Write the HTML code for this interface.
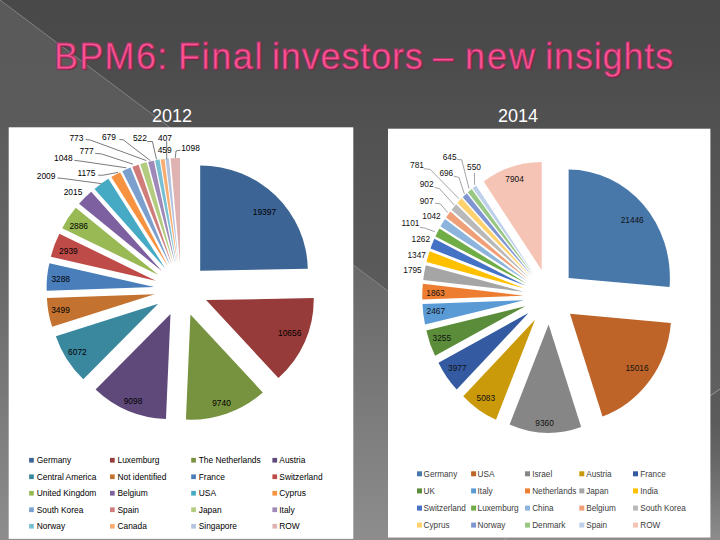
<!DOCTYPE html>
<html><head><meta charset="utf-8"><title>BPM6</title>
<style>
html,body{margin:0;padding:0;}
body{width:720px;height:540px;overflow:hidden;position:relative;background:#4f4f4f;font-family:"Liberation Sans",sans-serif;}
#bg{position:absolute;left:0;top:0;}
#title span{position:absolute;left:0;top:35.6px;font-size:36px;line-height:41px;color:#ff5292;white-space:nowrap;-webkit-text-stroke:0.9px #b0356a;text-shadow:1px 1px 1px #6a1c3e;}
.yr{position:absolute;top:105.5px;font-size:18px;line-height:20px;color:#fff;width:60px;text-align:center;}
</style></head><body>
<svg id="bg" width="720" height="540" viewBox="0 0 720 540">
<defs>
<linearGradient id="g1" x1="0" y1="0" x2="0" y2="1"><stop offset="0" stop-color="#494949"/><stop offset="0.08" stop-color="#4a4a4a"/><stop offset="0.25" stop-color="#525252"/><stop offset="0.5" stop-color="#5a5a5a"/><stop offset="0.72" stop-color="#5f5f5f"/><stop offset="1" stop-color="#8c8c8c"/></linearGradient>
<linearGradient id="g2" x1="0" y1="0" x2="0" y2="1"><stop offset="0" stop-color="#5a5a5a"/><stop offset="0.22" stop-color="#5b5b5b"/><stop offset="0.5" stop-color="#686868"/><stop offset="1" stop-color="#8d8d8d"/></linearGradient>
</defs>
<rect width="720" height="540" fill="url(#g1)"/>
<polygon points="0,0 720,540 0,540" fill="url(#g2)"/>
<line x1="0" y1="0" x2="720" y2="540" stroke="#8e8e8e" stroke-width="0.8"/>
<polygon points="720,389 504,540 720,540" fill="url(#g2)"/><line x1="720" y1="389" x2="504" y2="540" stroke="#a8a8a8" stroke-width="0.8"/>
<rect x="8.7" y="127.3" width="344.6" height="411.6" fill="#fff"/>
<rect x="388" y="128.7" width="322.4" height="408.8" fill="#fff"/>
<g transform="translate(181.2 289.6) scale(1.023 1)"><path d="M18.56 -18.92L18.56 -124.12A105.2 105.2 0 0 1 123.74 -20.91Z" fill="#3c6494"/><path d="M24.33 10.50L129.51 8.50A105.2 105.2 0 0 1 95.05 88.38Z" fill="#963b39"/><path d="M9.03 24.91L79.75 102.80A105.2 105.2 0 0 1 4.62 130.02Z" fill="#78933f"/><path d="M-10.46 24.35L-14.88 129.45A105.2 105.2 0 0 1 -83.68 99.88Z" fill="#5f497a"/><path d="M-22.48 14.03L-95.70 89.57A105.2 105.2 0 0 1 -122.50 46.65Z" fill="#3a889e"/><path d="M-26.09 4.62L-126.11 37.23A105.2 105.2 0 0 1 -131.23 8.33Z" fill="#c3722f"/><path d="M-26.38 -2.55L-131.51 1.16A105.2 105.2 0 0 1 -128.86 -26.30Z" fill="#4a7ebb"/><path d="M-24.94 -8.97L-127.42 -32.73A105.2 105.2 0 0 1 -119.06 -55.95Z" fill="#be4b48"/><path d="M-22.19 -14.49L-116.32 -61.46A105.2 105.2 0 0 1 -103.07 -81.76Z" fill="#98b954"/><path d="M-18.94 -18.53L-99.82 -85.80A105.2 105.2 0 0 1 -87.98 -97.91Z" fill="#7d60a0"/><path d="M-15.73 -21.33L-84.76 -100.71A105.2 105.2 0 0 1 -71.17 -110.73Z" fill="#46aac5"/><path d="M-12.89 -23.15L-68.33 -112.56A105.2 105.2 0 0 1 -59.69 -117.37Z" fill="#f79240"/><path d="M-10.78 -24.21L-57.59 -118.42A105.2 105.2 0 0 1 -49.53 -122.01Z" fill="#7ba0cd"/><path d="M-8.99 -24.93L-47.74 -122.73A105.2 105.2 0 0 1 -41.59 -124.95Z" fill="#d07c7a"/><path d="M-7.43 -25.44L-40.03 -125.46A105.2 105.2 0 0 1 -33.78 -127.28Z" fill="#b3cc80"/><path d="M-5.94 -25.83L-32.29 -127.67A105.2 105.2 0 0 1 -26.72 -128.95Z" fill="#9e89b9"/><path d="M-4.69 -26.08L-25.48 -129.21A105.2 105.2 0 0 1 -21.15 -129.99Z" fill="#77bfd3"/><path d="M-3.67 -26.25L-20.13 -130.15A105.2 105.2 0 0 1 -16.30 -130.68Z" fill="#f8ae73"/><path d="M-2.75 -26.36L-15.39 -130.79A105.2 105.2 0 0 1 -11.98 -131.15Z" fill="#b4c4df"/><path d="M-1.16 -26.47L-10.39 -131.27A105.2 105.2 0 0 1 -1.16 -131.67Z" fill="#dfb3b2"/></g>
<g transform="translate(549.5 296.7) scale(0.935 1)"><path d="M20.47 -18.81L20.47 -127.11A108.3 108.3 0 0 1 128.38 -9.66Z" fill="#4878aa"/><path d="M21.89 17.14L129.80 26.29A108.3 108.3 0 0 1 56.69 119.69Z" fill="#be6428"/><path d="M-0.95 27.78L33.85 130.34A108.3 108.3 0 0 1 -42.66 127.73Z" fill="#868686"/><path d="M-15.50 23.08L-57.22 123.02A108.3 108.3 0 0 1 -92.26 99.47Z" fill="#cb9a0a"/><path d="M-22.47 16.37L-99.23 92.77A108.3 108.3 0 0 1 -118.73 66.00Z" fill="#345aa2"/><path d="M-26.11 9.54L-122.37 59.17A108.3 108.3 0 0 1 -131.69 33.68Z" fill="#5a8c3a"/><path d="M-27.57 3.59L-133.14 27.73A108.3 108.3 0 0 1 -135.80 7.31Z" fill="#5b9bd5"/><path d="M-27.78 -1.04L-136.02 2.68A108.3 108.3 0 0 1 -135.43 -12.87Z" fill="#ed7d31"/><path d="M-27.36 -4.94L-135.01 -16.77A108.3 108.3 0 0 1 -132.34 -31.52Z" fill="#a5a5a5"/><path d="M-26.56 -8.21L-131.55 -34.80A108.3 108.3 0 0 1 -128.22 -45.55Z" fill="#ffc000"/><path d="M-25.60 -10.84L-127.26 -48.18A108.3 108.3 0 0 1 -123.15 -57.89Z" fill="#4472c4"/><path d="M-24.50 -13.13L-122.05 -60.18A108.3 108.3 0 0 1 -117.71 -68.29Z" fill="#70ad47"/><path d="M-23.34 -15.11L-116.54 -70.27A108.3 108.3 0 0 1 -111.80 -77.58Z" fill="#8cb4dc"/><path d="M-22.13 -16.82L-110.60 -79.29A108.3 108.3 0 0 1 -106.02 -85.32Z" fill="#f0a078"/><path d="M-20.91 -18.32L-104.79 -86.83A108.3 108.3 0 0 1 -99.82 -92.50Z" fill="#b9b9b9"/><path d="M-19.67 -19.64L-98.59 -93.81A108.3 108.3 0 0 1 -93.98 -98.43Z" fill="#ffd26e"/><path d="M-18.52 -20.73L-92.82 -99.52A108.3 108.3 0 0 1 -88.49 -103.40Z" fill="#7f96d2"/><path d="M-17.43 -21.66L-87.39 -104.33A108.3 108.3 0 0 1 -83.19 -107.71Z" fill="#98c683"/><path d="M-16.41 -22.44L-82.17 -108.49A108.3 108.3 0 0 1 -78.46 -111.20Z" fill="#bdd0ea"/><path d="M-8.35 -26.52L-70.40 -115.28A108.3 108.3 0 0 1 -8.35 -134.82Z" fill="#f6c4b4"/></g>
<g fill="none" stroke="#222" stroke-width="0.6"><polyline points="85.6,139.5 90.2,140 146.4,160.6"/><polyline points="119.4,139.4 123.2,139.8 150.3,160.6"/><polyline points="147.2,141.5 152.4,141.5 156.5,159.3"/><polyline points="166.7,141.2 166.7,159.3"/><polyline points="180.6,150.2 176,150.9 175.3,157.9"/><polyline points="95.2,153.4 101.3,153.9 133,164.2"/><polyline points="74.4,160.4 80,161 126.3,167.8"/><polyline points="98.1,175.2 103.1,175.2 118,172.4"/><polyline points="57.4,178 62.4,178.4 101.3,183.6"/></g>
<g fill="none" stroke="#666" stroke-width="0.6"><polyline points="457,159.4 461.7,159.8 469,188.5"/><polyline points="474.4,172.8 474.6,184.8"/><polyline points="423.7,168.7 430.2,169.4 458.9,198.7"/><polyline points="453.8,176.2 458.9,177.4 464.4,194"/><polyline points="434.5,187.6 439.4,188.5 454.3,205.2"/><polyline points="435,203.2 440.4,203.9 447.8,212.6"/><polyline points="420,227.4 424.6,228 434.8,231.7"/></g>
<g font-family="Liberation Sans, sans-serif" font-size="8.4" fill="#000" text-anchor="middle"><text x="264.4" y="214.6">19397</text><text x="289.7" y="335.8">10656</text><text x="221.5" y="406.3">9740</text><text x="133" y="403.8">9098</text><text x="77.4" y="354.5">6072</text><text x="60.5" y="313.0">3499</text><text x="60.7" y="282.0">3288</text><text x="68.4" y="253.8">2939</text><text x="78.7" y="228.6">2886</text><text x="73" y="194.7">2015</text><text x="46.1" y="178.6">2009</text><text x="86.4" y="175.8">1175</text><text x="63.3" y="161.3">1048</text><text x="86.6" y="154.4">777</text><text x="76.4" y="140.5">773</text><text x="108.9" y="140.0">679</text><text x="139.9" y="141.0">522</text><text x="164.7" y="152.9">459</text><text x="165" y="140.5">407</text><text x="190.5" y="150.8">1098</text></g>
<g font-family="Liberation Sans, sans-serif" font-size="8.3" fill="#111" text-anchor="middle"><text x="632.2" y="223.2">21446</text><text x="637" y="370.5">15016</text><text x="544.6" y="425.6">9360</text><text x="485.8" y="400.8">5083</text><text x="457.3" y="371.0">3977</text><text x="441.8" y="341.0">3255</text><text x="435.8" y="314.3">2467</text><text x="435.5" y="296.0">1863</text><text x="412.5" y="273.2">1795</text><text x="416.7" y="258.0">1347</text><text x="420.8" y="242.0">1262</text><text x="410.5" y="226.3">1101</text><text x="431.5" y="219.0">1042</text><text x="426.6" y="203.7">907</text><text x="426.6" y="187.3">902</text><text x="417" y="168.0">781</text><text x="446.3" y="175.7">696</text><text x="449.6" y="159.7">645</text><text x="474" y="170.3">550</text><text x="514.6" y="182.0">7904</text></g>
<g font-family="Liberation Sans, sans-serif" font-size="8.4" fill="#000"><rect x="29.1" y="457.9" width="4.7" height="4.7" fill="#3c6494"/><text x="36.75" y="463.3">Germany</text><rect x="110" y="457.9" width="4.7" height="4.7" fill="#963b39"/><text x="117.5" y="463.3">Luxemburg</text><rect x="191.2" y="457.9" width="4.7" height="4.7" fill="#78933f"/><text x="198.75" y="463.3">The Netherlands</text><rect x="272.4" y="457.9" width="4.7" height="4.7" fill="#5f497a"/><text x="279.3" y="463.3">Austria</text><rect x="29.1" y="474.4" width="4.7" height="4.7" fill="#3a889e"/><text x="36.75" y="479.8">Central America</text><rect x="110" y="474.4" width="4.7" height="4.7" fill="#c3722f"/><text x="117.5" y="479.8">Not identified</text><rect x="191.2" y="474.4" width="4.7" height="4.7" fill="#4a7ebb"/><text x="198.75" y="479.8">France</text><rect x="272.4" y="474.4" width="4.7" height="4.7" fill="#be4b48"/><text x="279.3" y="479.8">Switzerland</text><rect x="29.1" y="490.9" width="4.7" height="4.7" fill="#98b954"/><text x="36.75" y="496.3">United Kingdom</text><rect x="110" y="490.9" width="4.7" height="4.7" fill="#7d60a0"/><text x="117.5" y="496.3">Belgium</text><rect x="191.2" y="490.9" width="4.7" height="4.7" fill="#46aac5"/><text x="198.75" y="496.3">USA</text><rect x="272.4" y="490.9" width="4.7" height="4.7" fill="#f79240"/><text x="279.3" y="496.3">Cyprus</text><rect x="29.1" y="507.4" width="4.7" height="4.7" fill="#7ba0cd"/><text x="36.75" y="512.8">South Korea</text><rect x="110" y="507.4" width="4.7" height="4.7" fill="#d07c7a"/><text x="117.5" y="512.8">Spain</text><rect x="191.2" y="507.4" width="4.7" height="4.7" fill="#b3cc80"/><text x="198.75" y="512.8">Japan</text><rect x="272.4" y="507.4" width="4.7" height="4.7" fill="#9e89b9"/><text x="279.3" y="512.8">Italy</text><rect x="29.1" y="523.9" width="4.7" height="4.7" fill="#77bfd3"/><text x="36.75" y="529.2">Norway</text><rect x="110" y="523.9" width="4.7" height="4.7" fill="#f8ae73"/><text x="117.5" y="529.2">Canada</text><rect x="191.2" y="523.9" width="4.7" height="4.7" fill="#b4c4df"/><text x="198.75" y="529.2">Singapore</text><rect x="272.4" y="523.9" width="4.7" height="4.7" fill="#dfb3b2"/><text x="279.3" y="529.2">ROW</text></g>
<g font-family="Liberation Sans, sans-serif" font-size="8.2" fill="#3c3c3c"><rect x="417" y="471.3" width="5" height="5" fill="#4878aa"/><text x="423.6" y="476.8">Germany</text><rect x="471.1" y="471.3" width="5" height="5" fill="#be6428"/><text x="477.6" y="476.8">USA</text><rect x="525" y="471.3" width="5" height="5" fill="#868686"/><text x="532.2" y="476.8">Israel</text><rect x="579.3" y="471.3" width="5" height="5" fill="#cb9a0a"/><text x="586.2" y="476.8">Austria</text><rect x="633" y="471.3" width="5" height="5" fill="#345aa2"/><text x="640.3" y="476.8">France</text><rect x="417" y="488.4" width="5" height="5" fill="#5a8c3a"/><text x="423.6" y="493.9">UK</text><rect x="471.1" y="488.4" width="5" height="5" fill="#5b9bd5"/><text x="477.6" y="493.9">Italy</text><rect x="525" y="488.4" width="5" height="5" fill="#ed7d31"/><text x="532.2" y="493.9">Netherlands</text><rect x="579.3" y="488.4" width="5" height="5" fill="#a5a5a5"/><text x="586.2" y="493.9">Japan</text><rect x="633" y="488.4" width="5" height="5" fill="#ffc000"/><text x="640.3" y="493.9">India</text><rect x="417" y="505.6" width="5" height="5" fill="#4472c4"/><text x="423.6" y="511.1">Switzerland</text><rect x="471.1" y="505.6" width="5" height="5" fill="#70ad47"/><text x="477.6" y="511.1">Luxemburg</text><rect x="525" y="505.6" width="5" height="5" fill="#8cb4dc"/><text x="532.2" y="511.1">China</text><rect x="579.3" y="505.6" width="5" height="5" fill="#f0a078"/><text x="586.2" y="511.1">Belgium</text><rect x="633" y="505.6" width="5" height="5" fill="#b9b9b9"/><text x="640.3" y="511.1">South Korea</text><rect x="417" y="522.6" width="5" height="5" fill="#ffd26e"/><text x="423.6" y="528.1">Cyprus</text><rect x="471.1" y="522.6" width="5" height="5" fill="#7f96d2"/><text x="477.6" y="528.1">Norway</text><rect x="525" y="522.6" width="5" height="5" fill="#98c683"/><text x="532.2" y="528.1">Denmark</text><rect x="579.3" y="522.6" width="5" height="5" fill="#bdd0ea"/><text x="586.2" y="528.1">Spain</text><rect x="633" y="522.6" width="5" height="5" fill="#f6c4b4"/><text x="640.3" y="528.1">ROW</text></g>
</svg>
<div id="title"><span style="left:54.00px;letter-spacing:1.30px">BPM6:</span><span style="left:178.00px;letter-spacing:1.60px">Final</span><span style="left:272.00px;letter-spacing:0.85px">investors</span><span style="left:433.00px;letter-spacing:0.00px">–</span><span style="left:465.00px;letter-spacing:1.95px">new</span><span style="left:545.20px;letter-spacing:0.85px">insights</span></div>
<div class="yr" style="left:142px">2012</div>
<div class="yr" style="left:488px">2014</div>
</body></html>
